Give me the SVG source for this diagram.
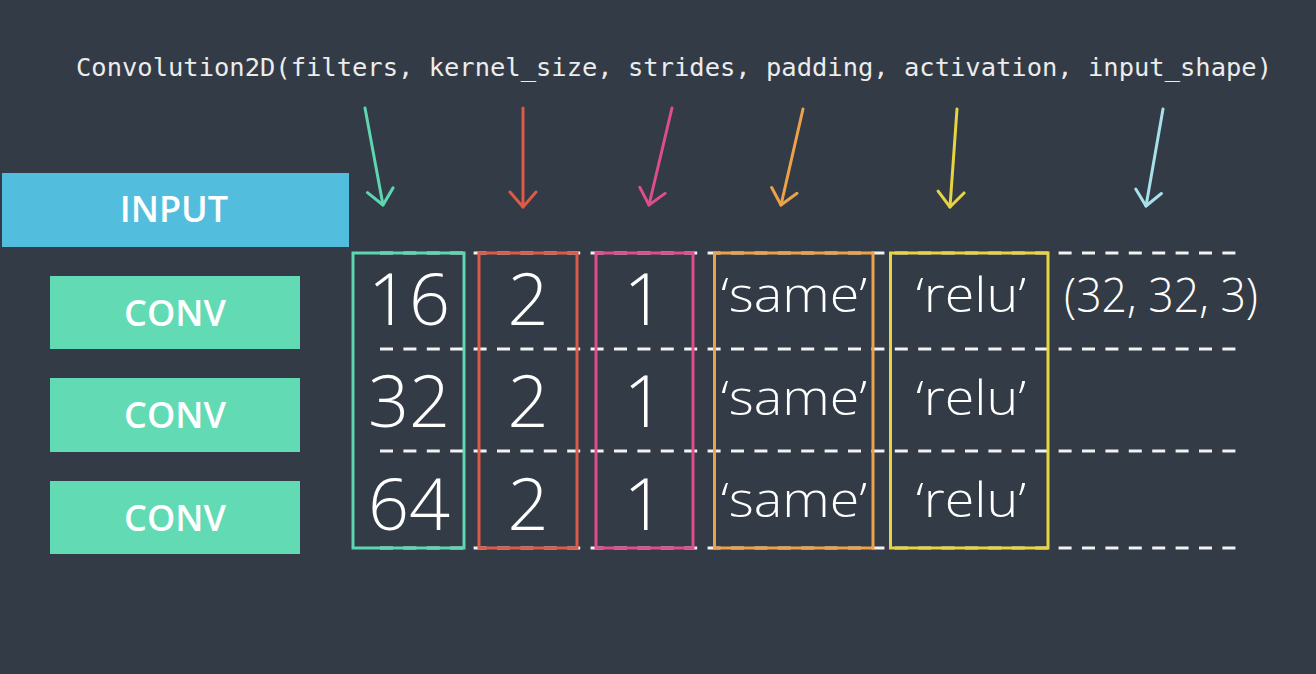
<svg xmlns="http://www.w3.org/2000/svg" width="1316" height="674" viewBox="0 0 1316 674">
<defs>
<style>
.lbl{font-family:"Open Sans","Liberation Sans",sans-serif;font-weight:600;font-size:36px;fill:#ffffff;text-anchor:middle}
.num{font-family:"Open Sans","Liberation Sans",sans-serif;font-weight:300;font-size:72px;fill:#ffffff;text-anchor:middle}
.val{font-family:"Open Sans","Liberation Sans",sans-serif;font-weight:300;font-size:48px;fill:#ffffff;text-anchor:middle}
.code{font-family:"DejaVu Sans Mono","Liberation Mono",monospace;font-size:25px;fill:#ececec}
.dash{stroke:#f2f2f2;stroke-width:3;stroke-dasharray:13 10.4;fill:none}
.col{fill:none;stroke-width:3}
.arr{fill:none;stroke-width:3;stroke-linecap:round;stroke-linejoin:round}
</style>
<marker id="mTeal" markerUnits="userSpaceOnUse" viewBox="-17 -15 20 30" refX="0" refY="0" markerWidth="20" markerHeight="30" orient="auto"><path d="M-15,-13 L0,0 L-15,13" fill="none" stroke="#5ed6b0" stroke-width="3" stroke-linecap="round" stroke-linejoin="round"/></marker>
<marker id="mRed" markerUnits="userSpaceOnUse" viewBox="-17 -15 20 30" refX="0" refY="0" markerWidth="20" markerHeight="30" orient="auto"><path d="M-15,-13 L0,0 L-15,13" fill="none" stroke="#dc5a48" stroke-width="3" stroke-linecap="round" stroke-linejoin="round"/></marker>
<marker id="mPink" markerUnits="userSpaceOnUse" viewBox="-17 -15 20 30" refX="0" refY="0" markerWidth="20" markerHeight="30" orient="auto"><path d="M-15,-13 L0,0 L-15,13" fill="none" stroke="#de4d8c" stroke-width="3" stroke-linecap="round" stroke-linejoin="round"/></marker>
<marker id="mOrange" markerUnits="userSpaceOnUse" viewBox="-17 -15 20 30" refX="0" refY="0" markerWidth="20" markerHeight="30" orient="auto"><path d="M-15,-13 L0,0 L-15,13" fill="none" stroke="#eda24a" stroke-width="3" stroke-linecap="round" stroke-linejoin="round"/></marker>
<marker id="mYellow" markerUnits="userSpaceOnUse" viewBox="-17 -15 20 30" refX="0" refY="0" markerWidth="20" markerHeight="30" orient="auto"><path d="M-15,-13 L0,0 L-15,13" fill="none" stroke="#e8d442" stroke-width="3" stroke-linecap="round" stroke-linejoin="round"/></marker>
<marker id="mBlue" markerUnits="userSpaceOnUse" viewBox="-17 -15 20 30" refX="0" refY="0" markerWidth="20" markerHeight="30" orient="auto"><path d="M-15,-13 L0,0 L-15,13" fill="none" stroke="#a8e0ec" stroke-width="3" stroke-linecap="round" stroke-linejoin="round"/></marker>
</defs>
<rect width="1316" height="674" fill="#323b46"/>

<text class="code" x="76" y="76" textLength="1196" lengthAdjust="spacingAndGlyphs">Convolution2D(filters, kernel_size, strides, padding, activation, input_shape)</text>

<g id="connectors">
<path class="arr" stroke="#5ed6b0" d="M365,108 L383,205" marker-end="url(#mTeal)"/>
<path class="arr" stroke="#dc5a48" d="M523,108 L523,207" marker-end="url(#mRed)"/>
<path class="arr" stroke="#de4d8c" d="M672,108 L649,205" marker-end="url(#mPink)"/>
<path class="arr" stroke="#eda24a" d="M803,109 L781,205" marker-end="url(#mOrange)"/>
<path class="arr" stroke="#e8d442" d="M957,109 L950,207" marker-end="url(#mYellow)"/>
<path class="arr" stroke="#a8e0ec" d="M1163,109 L1146,206" marker-end="url(#mBlue)"/>
</g>

<g id="input">
<rect x="2" y="173" width="347" height="74" fill="#53bddd"/>
<text class="lbl" x="174" y="222">INPUT</text>
</g>
<g id="conv1">
<rect x="50" y="276" width="250" height="73" fill="#62dbb5"/>
<text class="lbl" x="175" y="326">CONV</text>
</g>
<g id="conv2">
<rect x="50" y="378" width="250" height="74" fill="#62dbb5"/>
<text class="lbl" x="175" y="428">CONV</text>
</g>
<g id="conv3">
<rect x="50" y="481" width="250" height="73" fill="#62dbb5"/>
<text class="lbl" x="175" y="531">CONV</text>
</g>

<g id="grid">
<line class="dash" x1="380" y1="253" x2="1237" y2="253"/>
<line class="dash" x1="380" y1="349" x2="1237" y2="349"/>
<line class="dash" x1="380" y1="451" x2="1237" y2="451"/>
<line class="dash" x1="380" y1="548" x2="1237" y2="548"/>
</g>

<g id="filters">
<rect class="col" stroke="#5ed6b0" x="353" y="253" width="111" height="295"/>
<text class="num" x="409" y="325">16</text>
<text class="num" x="409" y="427">32</text>
<text class="num" x="409" y="530">64</text>
</g>
<g id="kernel_size">
<rect class="col" stroke="#dc5a48" x="479" y="253" width="98" height="295"/>
<text class="num" x="528" y="325">2</text>
<text class="num" x="528" y="427">2</text>
<text class="num" x="528" y="530">2</text>
</g>
<g id="strides">
<rect class="col" stroke="#de4d8c" x="596" y="253" width="97" height="295"/>
<text class="num" x="644" y="325">1</text>
<text class="num" x="644" y="427">1</text>
<text class="num" x="644" y="530">1</text>
</g>
<g id="padding">
<rect class="col" stroke="#eda24a" x="714.5" y="253" width="158.5" height="295"/>
<text class="val" x="794" y="312" textLength="146" lengthAdjust="spacingAndGlyphs">‘same’</text>
<text class="val" x="794" y="415" textLength="146" lengthAdjust="spacingAndGlyphs">‘same’</text>
<text class="val" x="794" y="517" textLength="146" lengthAdjust="spacingAndGlyphs">‘same’</text>
</g>
<g id="activation">
<rect class="col" stroke="#e8d442" x="890.5" y="253" width="157.5" height="295"/>
<text class="val" x="971" y="312" textLength="110" lengthAdjust="spacingAndGlyphs">‘relu’</text>
<text class="val" x="971" y="415" textLength="110" lengthAdjust="spacingAndGlyphs">‘relu’</text>
<text class="val" x="971" y="517" textLength="110" lengthAdjust="spacingAndGlyphs">‘relu’</text>
</g>
<g id="input_shape">
<text class="val" x="1161" y="312" textLength="194" lengthAdjust="spacingAndGlyphs">(32, 32, 3)</text>
</g>
</svg>
